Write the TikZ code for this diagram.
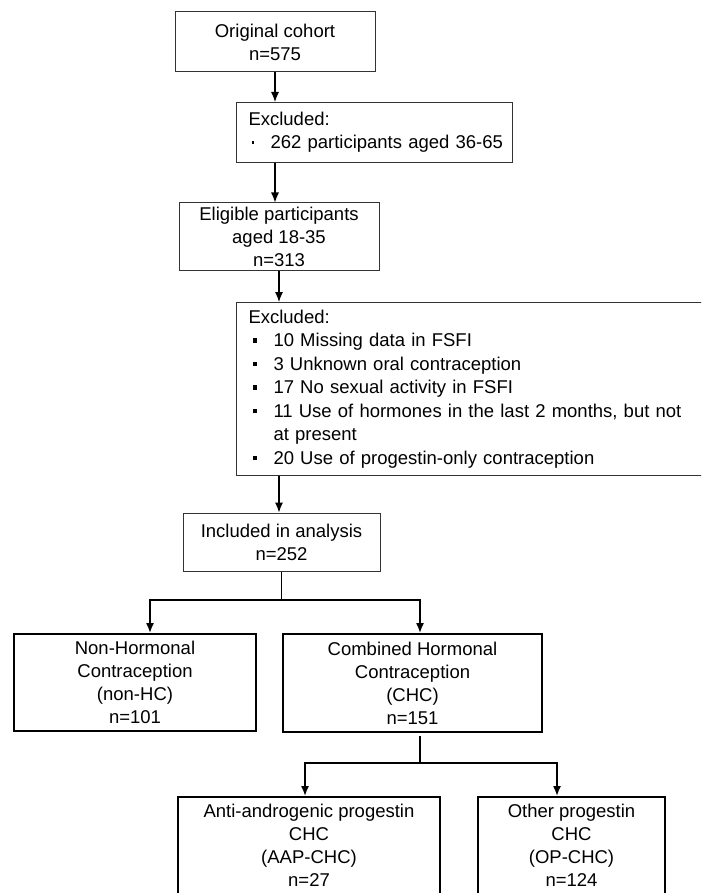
\documentclass[tikz,border=0pt]{standalone}
\usepackage{fontspec}
\setmainfont{Liberation Sans}
\usetikzlibrary{arrows.meta}

\tikzset{
  boite/.style={draw=black!80, line width=1pt, align=center, inner sep=0pt,
    font=\fontsize{18.5}{23}\selectfont},
  boiteexcl/.style={boite, align=left, inner xsep=12pt, anchor=north west},
  boitebas/.style={boite, draw=black, line width=1.8pt},
  fleche/.style={-{Latex[length=10pt,width=8pt]}, line width=1.1pt},
  fourche/.style={{Latex[length=10pt,width=8pt]}-{Latex[length=10pt,width=8pt]},
    line width=1.8pt},
}

% puces des listes
\newcommand\Point{\makebox[22pt][l]{\hspace{3pt}\rule[5pt]{2.5pt}{2.5pt}}}
\newcommand\Carre{\makebox[25pt][l]{\hspace{4pt}\rule[4pt]{4.5pt}{4.5pt}}}

\begin{document}
\begin{tikzpicture}[x=1pt,y=-1pt]

\useasboundingbox (0,0) rectangle (701,893);
\clip (0,0) rectangle (701,893);

% colonne principale
\node[boite, minimum width=200pt, minimum height=60pt] (orig) at (275,42)
  {Original cohort\\n=575};
\node[boiteexcl, text width=252pt, minimum height=60pt] (excl1) at (236,102)
  {Excluded:\\\mbox{\Point 262 participants aged 36-65}};
\node[boite, minimum width=200pt, minimum height=67pt] (elig) at (279,236.5)
  {Eligible participants\\aged 18-35\\n=313};
\node[boiteexcl, text width=460pt, minimum height=173pt,
  font=\fontsize{18.5}{23.5}\selectfont] (excl2) at (236,302)
  {Excluded:\\
   \Carre 10 Missing data in FSFI\\
   \Carre 3 Unknown oral contraception\\
   \Carre 17 No sexual activity in FSFI\\
   \Carre 11 Use of hormones in the last 2 months, but not\\
   \hspace*{25pt}at present\\
   \Carre 20 Use of progestin-only contraception};
\node[boite, minimum width=197pt, minimum height=58pt] (incl) at (281.5,542)
  {Included in analysis\\n=252};

% groupes
\node[boitebas, minimum width=242pt, minimum height=97pt] (nonhc) at (135,682.5)
  {Non-Hormonal\\Contraception\\(non-HC)\\n=101};
\node[boitebas, minimum width=259pt, minimum height=98pt] (chc) at (412.5,683)
  {Combined Hormonal\\Contraception\\(CHC)\\n=151};
\node[boitebas, minimum width=262pt, minimum height=97pt] (aap) at (309,845.5)
  {Anti-androgenic progestin\\CHC\\(AAP-CHC)\\n=27};
\node[boitebas, minimum width=187pt, minimum height=97pt] (op) at (571.5,845.5)
  {Other progestin\\CHC\\(OP-CHC)\\n=124};

% fleches
\draw[fleche] (orig.south) -- (orig.south |- excl1.north);
\draw[fleche] (orig.south |- excl1.south) -- (orig.south |- elig.north);
\draw[fleche] (elig.south) -- (elig.south |- excl2.north);
\draw[fleche] (elig.south |- excl2.south) -- (elig.south |- incl.north);

% premiere fourche
\coordinate (g1) at (150,600);
\coordinate (d1) at (420,600);
\draw[line width=1.3pt] (incl.south) -- (incl.south |- g1);
\draw[fourche] (g1 |- nonhc.north) -- (g1) -- (d1) -- (d1 |- chc.north);

% seconde fourche
\coordinate (m2) at (420,763);
\coordinate (g2) at (305,763);
\coordinate (d2) at (557,763);
\draw[line width=1.8pt] ([yshift=-3pt]m2 |- chc.south) -- (m2);
\draw[fourche] (g2 |- aap.north) -- (g2) -- (d2) -- (d2 |- op.north);

\end{tikzpicture}
\end{document}
